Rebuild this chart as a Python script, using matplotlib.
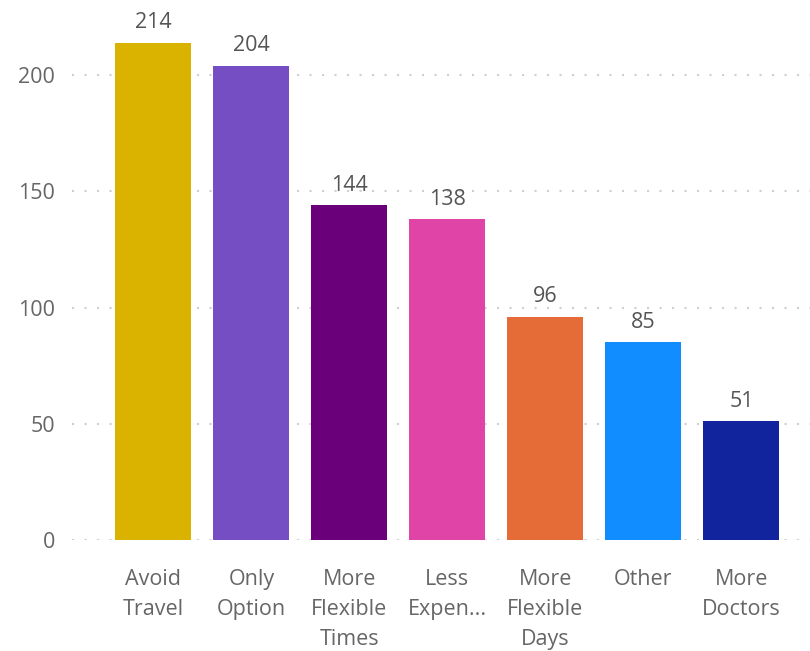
import matplotlib
matplotlib.use('agg')
import matplotlib.pyplot as plt
import numpy as np

plt.rcParams['font.family'] = ['Open Sans', 'DejaVu Sans']

categories = ['Avoid\nTravel', 'Only\nOption', 'More\nFlexible\nTimes', 'Less\nExpen...',
              'More\nFlexible\nDays', 'Other', 'More\nDoctors']
counts = [214, 204, 144, 138, 96, 85, 51]
bar_colors = ['#D9B300', '#744EC2', '#6B007B', '#E044A7', '#E66C37', '#118DFF', '#12239E']
yticks = [0, 50, 100, 150, 200]

fig = plt.figure(figsize=(8.1, 6.51), dpi=100)
ax = fig.add_axes([72 / 810, 111 / 651, 738 / 810, 523 / 651])

xpos = np.arange(len(categories))
rects = ax.bar(xpos, counts, width=0.776, color=bar_colors, zorder=2)

for r, v in zip(rects, counts):
    ax.annotate(str(v), xy=(r.get_x() + r.get_width() / 2, v), xytext=(0, 7),
                textcoords='offset points', ha='center', va='bottom',
                fontsize=15.5, color='#555555')

ax.set_xlim(-0.83, 6.7)
ax.set_ylim(0, 225)
ax.set_yticks(yticks)
ax.set_xticks(xpos)
ax.set_xticklabels(categories, linespacing=1.55)

for y in yticks:
    ax.axhline(y, color='#cfcfcf', linestyle=(0, (1, 5)), linewidth=1.5, zorder=1)

ax.tick_params(axis='both', length=0, labelsize=15.5, labelcolor='#666666')
ax.tick_params(axis='x', pad=21)
ax.tick_params(axis='y', pad=12)
for s in ax.spines.values():
    s.set_visible(False)

fig.savefig('out.png', dpi=100)
